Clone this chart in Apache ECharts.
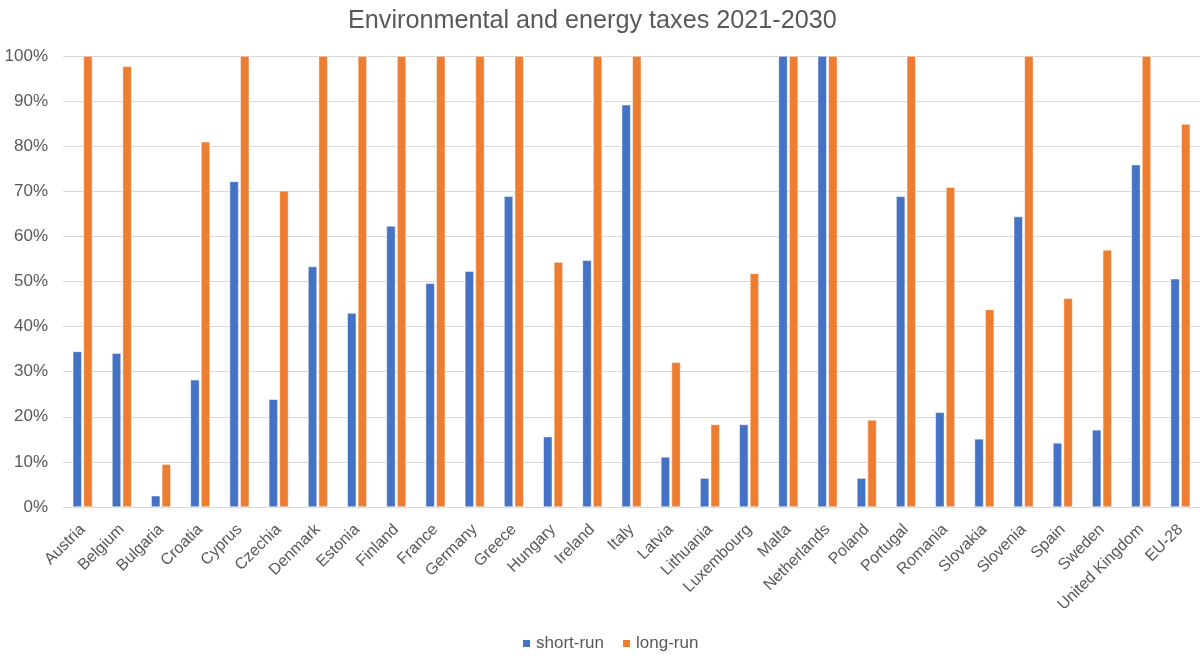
<!DOCTYPE html>
<html><head><meta charset="utf-8">
<script src="https://cdn.jsdelivr.net/npm/echarts@6/dist/echarts.min.js"></script>
<style>html,body{margin:0;padding:0;background:#fff}#c{width:1200px;height:662px}</style>
</head><body><div id="c"></div>
<script>
const categories = ["Austria","Belgium","Bulgaria","Croatia","Cyprus","Czechia","Denmark","Estonia","Finland","France","Germany","Greece","Hungary","Ireland","Italy","Latvia","Lithuania","Luxembourg","Malta","Netherlands","Poland","Portugal","Romania","Slovakia","Slovenia","Spain","Sweden","United Kingdom","EU-28"];
const shortRun = [34.5,34.1,2.5,28.2,72.2,23.9,53.3,43.0,62.3,49.6,52.3,68.9,15.6,54.7,89.2,11.1,6.4,18.3,100,100,6.4,68.9,21.0,15.1,64.4,14.2,17.1,75.9,50.6];
const longRun = [100,97.7,9.5,81.0,100,70.1,100,100,100,100,100,100,54.3,100,100,32.1,18.3,51.8,100,100,19.3,100,70.9,43.8,100,46.3,57.0,100,84.9];
const seriesNames = ["short-run","long-run"];
const font = "Liberation Sans, Arial, sans-serif";
const chart = echarts.init(document.getElementById('c'));
chart.setOption({
  animation:false,
  title:{text:"Environmental and energy taxes 2021-2030",left:343,top:4,textStyle:{fontFamily:font,fontSize:25.2,fontWeight:'normal',color:'#595959'}},
  legend:{bottom:5,left:516,itemWidth:9,itemHeight:9,itemGap:17,icon:'rect',textStyle:{fontFamily:font,fontSize:17,color:'#595959'},data:seriesNames},
  grid:{left:63,right:0,top:56,bottom:155,containLabel:false},
  xAxis:{type:'category',data:categories,axisTick:{show:false},axisLine:{lineStyle:{color:'#d9d9d9',width:1}},
    axisLabel:{rotate:45,interval:0,fontFamily:font,fontSize:16,color:'#595959',margin:20}},
  yAxis:{type:'value',min:0,max:100,interval:10,axisLine:{show:false},axisTick:{show:false},
    splitLine:{lineStyle:{color:'#d9d9d9',width:1}},
    axisLabel:{formatter:'{value}%',fontFamily:font,fontSize:17,color:'#595959',margin:15}},
  series:[
    {name:seriesNames[0],type:'bar',data:shortRun,barWidth:9,barGap:'18%',itemStyle:{color:'#4472C4',borderColor:'#ffffff',borderWidth:0.5}},
    {name:seriesNames[1],type:'bar',data:longRun,barWidth:9,barGap:'18%',itemStyle:{color:'#ED7D31',borderColor:'#ffffff',borderWidth:0.5}}
  ]
});
</script></body></html>
